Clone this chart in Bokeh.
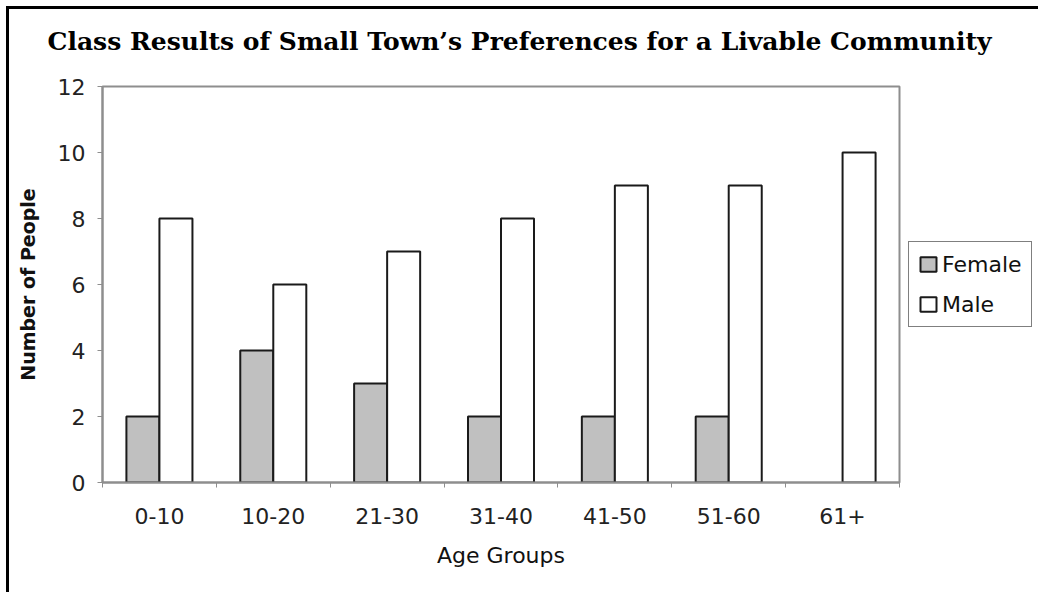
from bokeh.plotting import figure
from bokeh.models import (ColumnDataSource, FixedTicker, Legend, LegendItem,
                          LinearAxis, Range1d, Title)
from bokeh.embed import file_html
from bokeh.resources import INLINE
import numpy as np

# ---- data ----
categories = ["0-10", "10-20", "21-30", "31-40", "41-50", "51-60", "61+"]
female = [2, 4, 3, 2, 2, 2, 0]
male = [8, 6, 7, 8, 9, 9, 10]
y_ticks = [0, 2, 4, 6, 8, 10, 12]
title_text = "Class Results of Small Town\u2019s Preferences for a Livable Community"

FONT = "DejaVu Sans"
centers = np.arange(len(categories)) + 0.5
bar_w = 0.29

src_f = ColumnDataSource(dict(x=centers - bar_w / 2, top=female,
                              la=[0 if v == 0 else 1 for v in female]))
src_m = ColumnDataSource(dict(x=centers + bar_w / 2, top=male,
                              la=[0 if v == 0 else 1 for v in male]))

p = figure(frame_width=797, frame_height=396, output_backend="svg", toolbar_location=None,
           x_range=Range1d(0, len(categories)), y_range=Range1d(0, 12),
           x_axis_type=None, y_axis_type=None,
           min_border_left=93, min_border_right=139, min_border_top=77,
           min_border_bottom=110)
p.styles = {"border-top": "3px solid black", "border-left": "3px solid black",
            "margin-top": "6px", "margin-left": "6px"}
p.grid.visible = False
p.outline_line_color = "#8e8e8e"
p.outline_line_width = 2
p.background_fill_color = "white"
p.border_fill_color = "white"

rf = p.vbar(x="x", top="top", width=bar_w, bottom=0, source=src_f,
            fill_color="#c0c0c0", line_color="#1a1a1a", line_width=2, line_alpha="la")
rm = p.vbar(x="x", top="top", width=bar_w, bottom=0, source=src_m,
            fill_color="white", line_color="#1a1a1a", line_width=2, line_alpha="la")

# y axis
yax = LinearAxis(ticker=FixedTicker(ticks=y_ticks), axis_label="Number of People")
yax.axis_line_color = "#8e8e8e"
yax.axis_line_width = 2
yax.major_tick_line_color = "#8e8e8e"
yax.major_tick_out = 5
yax.major_tick_in = 0
yax.minor_tick_out = 0
yax.major_label_standoff = 12
yax.major_label_text_font = FONT
yax.major_label_text_font_size = "22px"
yax.major_label_text_color = "#222222"
yax.axis_label_text_font = FONT
yax.axis_label_text_font_style = "bold"
yax.axis_label_text_font_size = "19px"
yax.axis_label_text_color = "#111111"
yax.axis_label_standoff = 16
p.add_layout(yax, "left")

# x axis: labels at centers, tick marks at category boundaries
xax = LinearAxis(ticker=FixedTicker(ticks=list(centers),
                                    minor_ticks=list(range(len(categories) + 1))),
                 axis_label="Age Groups")
xax.major_label_overrides = {float(c): lab for c, lab in zip(centers, categories)}
xax.axis_line_color = "#8e8e8e"
xax.axis_line_width = 2
xax.major_tick_out = 0
xax.major_tick_in = 0
xax.minor_tick_line_color = "#8e8e8e"
xax.minor_tick_out = 5
xax.minor_tick_in = 0
xax.major_label_standoff = 20
xax.major_label_text_font = FONT
xax.major_label_text_font_size = "22px"
xax.major_label_text_color = "#222222"
xax.axis_label_text_font = FONT
xax.axis_label_text_font_style = "normal"
xax.axis_label_text_font_size = "22px"
xax.axis_label_text_color = "#111111"
xax.axis_label_standoff = 16
p.add_layout(xax, "below")

# spacer between frame and title, then the title itself
spacer = Title(text=" ", text_font_size="2px", standoff=8)
p.add_layout(spacer, "above")
title = Title(text=title_text, align="left", offset=-55, standoff=34,
              vertical_align="top",
              text_font="DejaVu Serif", text_font_style="bold",
              text_font_size="25px", text_color="black")
p.add_layout(title, "above")

legend = Legend(items=[LegendItem(label="Female", renderers=[rf]),
                       LegendItem(label="Male", renderers=[rm])],
                location="left", orientation="vertical",
                glyph_width=20, glyph_height=18, label_height=26,
                spacing=14, padding=9, margin=9, label_standoff=4,
                label_text_font=FONT, label_text_font_size="22px",
                label_text_color="#111111",
                border_line_color="black", border_line_width=1.5,
                background_fill_color="white", background_fill_alpha=1)
p.add_layout(legend, "right")

open("out.html", "w").write(file_html(p, INLINE))
